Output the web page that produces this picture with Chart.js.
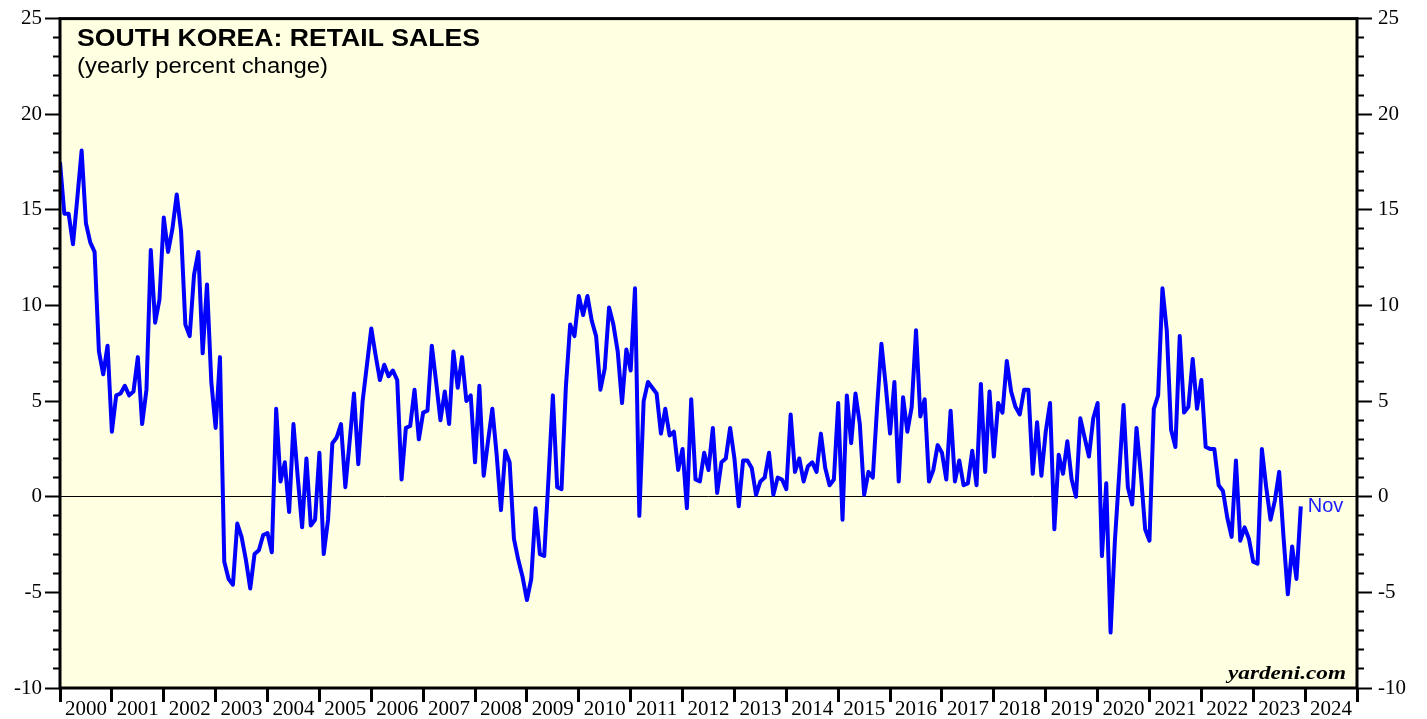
<!DOCTYPE html>
<html><head><meta charset="utf-8">
<script src="https://cdn.jsdelivr.net/npm/chart.js@4"></script>
<style>html,body{margin:0;padding:0;background:#fff;overflow:hidden}
#wrap{position:relative;width:1427px;height:719px}</style>
</head><body><div id="wrap"><canvas id="c" width="1427" height="719"></canvas></div>
<script>
// Monthly observations, first one (Dec 1999) sits at the 2000 axis start
const firstObsYear = 2000;
const retailSales = [
  17.5,
  14.8,14.8,13.2,15.6,18.1,14.3,13.3,12.8,7.6,6.4,7.9,3.4,      // 2000
  5.3,5.4,5.8,5.3,5.5,7.3,3.8,5.6,12.9,9.1,10.3,14.6,           // 2001
  12.8,14.0,15.8,13.9,9.0,8.4,11.6,12.8,7.5,11.1,6.0,3.6,       // 2002
  7.3,-3.4,-4.3,-4.6,-1.4,-2.1,-3.3,-4.8,-3.0,-2.8,-2.0,-1.9,   // 2003
  -2.9,4.6,0.8,1.8,-0.8,3.8,1.0,-1.6,2.0,-1.5,-1.2,2.3,         // 2004
  -3.0,-1.2,2.8,3.1,3.8,0.5,2.9,5.4,1.7,5.0,6.9,8.8,            // 2005
  7.4,6.1,6.9,6.3,6.6,6.1,0.9,3.6,3.7,5.6,3.0,4.4,              // 2006
  4.5,7.9,6.0,4.0,5.5,3.8,7.6,5.7,7.3,5.0,5.3,1.8,              // 2007
  5.8,1.1,2.9,4.6,2.2,-0.7,2.4,1.8,-2.2,-3.3,-4.2,-5.4,         // 2008
  -4.3,-0.6,-3.0,-3.1,1.0,5.3,0.5,0.4,5.7,9.0,8.4,10.5,         // 2009
  9.5,10.5,9.2,8.4,5.6,6.7,9.9,9.0,7.6,4.9,7.7,6.6,             // 2010
  10.9,-1.0,5.0,6.0,5.7,5.4,3.3,4.6,3.2,3.4,1.4,2.5,            // 2011
  -0.6,5.1,0.9,0.8,2.3,1.4,3.6,0.2,1.8,2.0,3.6,2.0,             // 2012
  -0.5,1.9,1.9,1.5,0.1,0.8,1.0,2.3,0.1,1.0,0.9,0.4,             // 2013
  4.3,1.3,2.0,0.8,1.6,1.8,1.3,3.3,1.5,0.6,0.9,4.9,              // 2014
  -1.2,5.3,2.8,5.4,3.8,0.1,1.3,1.0,4.7,8.0,5.8,3.3,             // 2015
  6.0,0.8,5.2,3.4,4.7,8.7,4.2,5.1,0.8,1.4,2.7,2.3,              // 2016
  0.9,4.5,0.8,1.9,0.6,0.7,2.4,0.6,5.9,1.3,5.5,2.1,              // 2017
  4.9,4.4,7.1,5.5,4.7,4.3,5.6,5.6,1.2,3.9,1.1,3.4,              // 2018
  4.9,-1.7,2.2,1.2,2.9,0.9,0.0,4.1,3.1,2.1,4.1,4.9,             // 2019
  -3.1,0.7,-7.1,-2.3,1.2,4.8,0.5,-0.4,3.6,1.2,-1.7,-2.3,        // 2020
  4.6,5.3,10.9,8.7,3.5,2.6,8.4,4.4,4.7,7.2,4.6,6.1,             // 2021
  2.6,2.5,2.5,0.6,0.3,-1.1,-2.1,1.9,-2.3,-1.6,-2.2,-3.4,        // 2022
  -3.5,2.5,0.5,-1.2,-0.2,1.3,-2.1,-5.1,-2.6,-4.3,-0.5           // 2023 (to Nov)
];
const yearLabels = ['2000','2001','2002','2003','2004','2005','2006','2007','2008','2009','2010','2011','2012','2013','2014','2015','2016','2017','2018','2019','2020','2021','2022','2023','2024'];
const yTickLabels = [-10,-5,0,5,10,15,20,25];
const lastLabel = 'Nov';
const titleText = 'SOUTH KOREA: RETAIL SALES';
const subtitleText = '(yearly percent change)';
const sourceText = 'yardeni.com';

const points = retailSales.map((v, i) => ({x: firstObsYear + i / 12, y: v}));
const yMin = yTickLabels[0], yMax = yTickLabels[yTickLabels.length - 1];
const xMin = +yearLabels[0], xMax = +yearLabels[yearLabels.length - 1] + 1;

function yTicks(scale){ const t=[]; for(let v=yMin; v<=yMax; v++) t.push({value:v}); scale.ticks=t; }
function isMajor(ctx){ return ctx.tick && yTickLabels.includes(ctx.tick.value); }

const decor = {
  id: 'decor',
  beforeDraw(chart){
    const {ctx, chartArea:a} = chart;
    ctx.save();
    ctx.fillStyle = '#FFFFE1';
    ctx.fillRect(a.left, a.top, a.right - a.left, a.bottom - a.top);
    ctx.restore();
  },
  afterDatasetsDraw(chart){
    const {ctx, chartArea:a} = chart;
    ctx.save();
    ctx.strokeStyle = '#000'; ctx.lineWidth = 3;
    ctx.strokeRect(a.left, a.top, a.right - a.left, a.bottom - a.top);
    function stretched(text, font, x, y, targetW, align){
      ctx.font = font;
      const w = ctx.measureText(text).width;
      const s = targetW / w;
      ctx.save();
      ctx.translate(x, y); ctx.scale(s, 1);
      ctx.textAlign = align || 'left';
      ctx.fillText(text, 0, 0);
      ctx.restore();
    }
    ctx.fillStyle = '#000'; ctx.textBaseline = 'alphabetic';
    stretched(titleText, 'bold 23px "Liberation Sans"', 77, 46, 403);
    stretched(subtitleText, '22px "Liberation Sans"', 77, 73, 251);
    stretched(sourceText, 'bold italic 19px "Liberation Serif"', 1346, 679, 118, 'right');
    const last = points[points.length - 1];
    const xs = chart.scales.x, ys = chart.scales.y;
    ctx.fillStyle = '#1a1aff';
    ctx.font = '20px "Liberation Sans"';
    ctx.textAlign = 'left'; ctx.textBaseline = 'middle';
    ctx.fillText(lastLabel, xs.getPixelForValue(last.x) + 7, ys.getPixelForValue(last.y));
    ctx.restore();
  }
};

const tickFont = {family: '"Liberation Serif"', size: 21};

new Chart(document.getElementById('c'), {
  type: 'line',
  data: { datasets: [{
    data: points,
    borderColor: '#0000FF',
    borderWidth: 4,
    pointRadius: 0,
    tension: 0,
    fill: false,
    borderJoinStyle: 'round'
  }]},
  options: {
    responsive: false,
    animation: false,
    devicePixelRatio: 1,
    layout: {padding: {top: 15, left: 0, right: 0, bottom: 0}},
    plugins: {legend: {display: false}, tooltip: {enabled: false}},
    scales: {
      x: {
        type: 'linear', position: 'bottom', min: xMin, max: xMax,
        afterBuildTicks(s){ const t=[]; for(let y=xMin; y<=xMax; y++){ t.push({value:y}); if(y<xMax) t.push({value:y+0.5}); } s.ticks=t; },
        afterFit(s){ s.height = 31; },
        border: {display: false},
        grid: {
          drawOnChartArea: false, drawTicks: true, tickLength: 14, tickWidth: 3,
          tickColor: ctx => (ctx.tick && Number.isInteger(ctx.tick.value)) ? '#000' : 'rgba(0,0,0,0)'
        },
        ticks: {
          autoSkip: false, maxRotation: 0, minRotation: 0, padding: -5,
          color: '#000', font: tickFont,
          callback: v => Number.isInteger(v) ? '' : yearLabels[Math.floor(v) - xMin]
        }
      },
      y: {
        type: 'linear', position: 'left', min: yMin, max: yMax,
        afterBuildTicks: yTicks,
        afterFit(s){ s.width = 60; },
        border: {display: false},
        grid: {
          drawOnChartArea: true, lineWidth: 1,
          color: ctx => (ctx.tick && ctx.tick.value === 0) ? '#000' : 'rgba(0,0,0,0)',
          tickColor: '#000', tickWidth: 2, tickLength: 15,
          tickBorderDash: ctx => isMajor(ctx) ? [] : [0, 8, 7, 100]
        },
        ticks: {
          autoSkip: false, padding: 3, color: '#000', font: tickFont,
          callback: v => yTickLabels.includes(v) ? String(v) : ''
        }
      },
      y2: {
        type: 'linear', position: 'right', min: yMin, max: yMax,
        afterBuildTicks: yTicks,
        afterFit(s){ s.width = 70; },
        border: {display: false},
        grid: {
          drawOnChartArea: false,
          tickColor: '#000', tickWidth: 2, tickLength: 15,
          tickBorderDash: ctx => isMajor(ctx) ? [] : [7, 100]
        },
        ticks: {
          autoSkip: false, padding: 6, color: '#000', font: tickFont,
          callback: v => yTickLabels.includes(v) ? String(v) : ''
        }
      }
    }
  },
  plugins: [decor]
});
</script></body></html>
